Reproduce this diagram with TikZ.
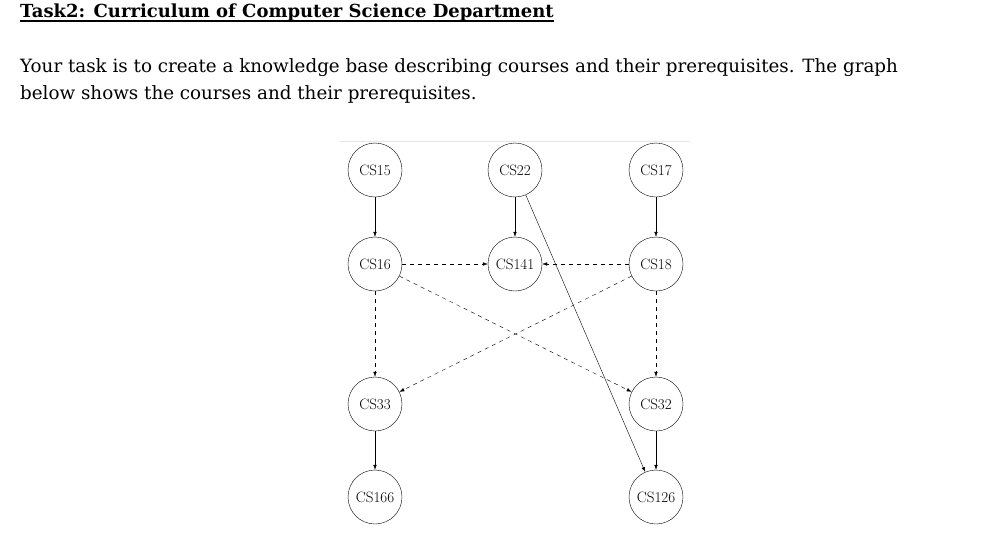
\documentclass[tikz,border=0pt]{standalone}
\usepackage{fontspec}
\setmainfont{DejaVu Serif}
\newfontfamily\lmr{Latin Modern Roman}
\usetikzlibrary{arrows.meta}
\begin{document}
\begin{tikzpicture}[x=1pt,y=-1pt,
  course/.style={circle,draw,minimum size=54pt,inner sep=0pt,font=\lmr\fontsize{15}{15}\selectfont},
  pre/.style={-{Latex[length=5pt,width=3.5pt]},thin},
  dpre/.style={pre,dash pattern=on 4pt off 4pt}]
\useasboundingbox[fill=white] (0,0) rectangle (991,547);
\node[anchor=west,inner sep=0pt,font=\bfseries\fontsize{18}{18}\selectfont] (title) at (20,13) {Task2: Curriculum of Computer Science Department};
\draw[line width=1.3pt] ([yshift=-3pt]title.base west) -- ([yshift=-3pt]title.base east);
\node[anchor=north west,align=left,font=\fontsize{18.3}{27}\selectfont,inner sep=0pt] (body) at (20,58) {Your task is to create a knowledge base describing courses and their prerequisites. The graph\\below shows the courses and their prerequisites.};
\draw[black!10] (340,141) -- (690,141);
\node[course] (cs15) at (375,170) {CS15};
\node[course] (cs22) at (515,170) {CS22};
\node[course] (cs17) at (656,170) {CS17};
\node[course] (cs16) at (375,264) {CS16};
\node[course] (cs141) at (515,264) {CS141};
\node[course] (cs18) at (656,264) {CS18};
\node[course] (cs33) at (375,404) {CS33};
\node[course] (cs32) at (656,404) {CS32};
\node[course] (cs166) at (375,497) {CS166};
\node[course] (cs126) at (656,497) {CS126};
\draw[pre] (cs15) -- (cs16);
\draw[pre] (cs22) -- (cs141);
\draw[pre] (cs17) -- (cs18);
\draw[pre] (cs33) -- (cs166);
\draw[pre] (cs32) -- (cs126);
\draw[pre] (cs22) -- (cs126);
\draw[dpre] (cs16) -- (cs141);
\draw[dpre] (cs18) -- (cs141);
\draw[dpre] (cs16) -- (cs33);
\draw[dpre] (cs18) -- (cs32);
\draw[dpre] (cs16) -- (cs32);
\draw[dpre] (cs18) -- (cs33);
\end{tikzpicture}
\end{document}
